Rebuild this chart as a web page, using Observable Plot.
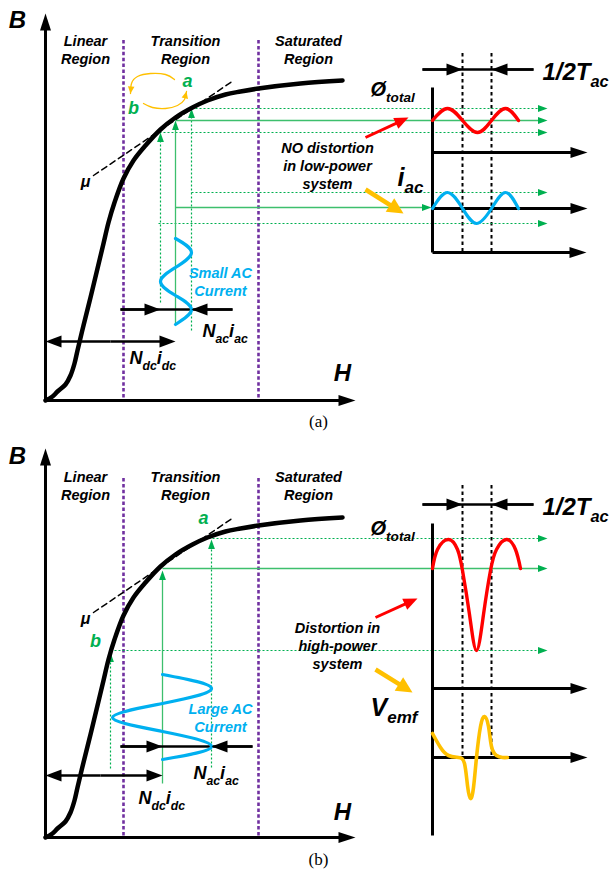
<!DOCTYPE html>
<html><head><meta charset="utf-8">
<script src="https://cdn.jsdelivr.net/npm/d3@7"></script>
<script src="https://cdn.jsdelivr.net/npm/@observablehq/plot@0.6"></script>
<style>html,body{margin:0;padding:0;background:#fff}#chart svg{display:block}</style>
</head><body><div id="chart"></div>
<script>
// ---------- DATA (diagram units = page pixels) ----------
const PANEL_B_SHIFT = 437; // vertical offset of panel (b) B-H curve & tangent
const bhCurve = [[45,400],[52,396],[57,391],[65,384],[70,375],[74,363],[77,350],[83,325],[90,297],[97,268],[103,243],[108,222],[114,202],[123,178],[133,160],[145,145],[160,129],[175,117],[192,107],[207,100],[225,94],[240,91],[258,88],[300,83],[342,80]];
const muTangent = [[93,175],[233,80]];

const regionBounds = [
  {x:123,y1:40,y2:400},{x:258,y1:40,y2:400},
  {x:123,y1:478,y2:837},{x:258,y1:478,y2:837}];
const periodMarks = [
  {x:462,y1:53,y2:252},{x:491,y1:53,y2:252},
  {x:462,y1:485,y2:757},{x:491,y1:485,y2:757}];
const plainAxes = [{x1:432,y1:87,x2:432,y2:252},{x1:432,y1:523,x2:432,y2:835}];
const dimBars = [
  {x1:422,y1:69,x2:533,y2:69},{x1:120,y1:309,x2:232,y2:309},
  {x1:422,y1:504,x2:533,y2:504},{x1:120,y1:746,x2:252,y2:746}];

const arrows = [
  // panel (a)
  {x1:45,y1:400,x2:45,y2:13,kind:"axis"},
  {x1:45,y1:400,x2:355,y2:400,kind:"axis"},
  {x1:432,y1:152,x2:587,y2:152,kind:"axis"},
  {x1:432,y1:208,x2:587,y2:208,kind:"axis"},
  {x1:432,y1:252,x2:586,y2:252,kind:"axis"},
  {x1:422,y1:69,x2:462,y2:69,kind:"dim"},
  {x1:533,y1:69,x2:491,y2:69,kind:"dim"},
  {x1:120,y1:309,x2:160,y2:309,kind:"dim"},
  {x1:232,y1:309,x2:191,y2:309,kind:"dim"},
  {x1:110,y1:341,x2:45,y2:341,kind:"dim"},
  {x1:110,y1:341,x2:175,y2:341,kind:"dim"},
  {x1:160,y1:302,x2:160,y2:132,kind:"greenDot"},
  {x1:175,y1:323,x2:175,y2:120,kind:"greenSolid"},
  {x1:191,y1:330,x2:191,y2:108,kind:"greenDot"},
  {x1:191,y1:108,x2:547,y2:108,kind:"greenDot"},
  {x1:175,y1:120,x2:547,y2:120,kind:"greenSolid"},
  {x1:155,y1:132,x2:547,y2:132,kind:"greenDot"},
  {x1:191,y1:192,x2:547,y2:192,kind:"greenDot"},
  {x1:175,y1:207,x2:431,y2:207,kind:"greenSolid"},
  {x1:158,y1:223,x2:547,y2:223,kind:"greenDot"},
  {x1:365,y1:137,x2:408,y2:117,kind:"red"},
  {x1:365,y1:189,x2:403,y2:213,kind:"orange"},
  // panel (b)
  {x1:45,y1:837,x2:45,y2:448,kind:"axis"},
  {x1:45,y1:837,x2:355,y2:837,kind:"axis"},
  {x1:432,y1:688,x2:587,y2:688,kind:"axis"},
  {x1:432,y1:757,x2:587,y2:757,kind:"axis"},
  {x1:422,y1:504,x2:462,y2:504,kind:"dim"},
  {x1:533,y1:504,x2:491,y2:504,kind:"dim"},
  {x1:120,y1:746,x2:162,y2:746,kind:"dim"},
  {x1:252,y1:746,x2:211,y2:746,kind:"dim"},
  {x1:100,y1:775,x2:45,y2:775,kind:"dim"},
  {x1:100,y1:775,x2:162,y2:775,kind:"dim"},
  {x1:110,y1:768,x2:110,y2:652,kind:"greenDot"},
  {x1:162,y1:783,x2:162,y2:570,kind:"greenSolid"},
  {x1:211,y1:767,x2:211,y2:539,kind:"greenDot"},
  {x1:200,y1:538,x2:547,y2:538,kind:"greenDot"},
  {x1:162,y1:568,x2:547,y2:568,kind:"greenSolid"},
  {x1:110,y1:650,x2:547,y2:650,kind:"greenDot"},
  {x1:375,y1:617,x2:417,y2:598,kind:"red"},
  {x1:375,y1:669,x2:412,y2:692,kind:"orange"}
];

// waveforms (peaks / crossings)
const smallAC   = [[175,238],[191,252],[175,267],[160,281],[175,295],[191,309],[175,324]];
const iacA      = [[432,208],[447,192],[462,208],[476,223],[491,208],[505,192],[518,208]];
const fluxA     = [[432,120],[447,108],[462,120],[477,132],[491,120],[505,108],[518,120]];
const largeAC   = [[162,674],[211,688],[162,703],[112,717],[162,731],[211,746],[162,759]];
const fluxB     = [[432,568],[437,549],[448,539],[457,549],[462,570],[469,614],[476,650],[483,614],[490,570],[496,549],[506,539],[515,549],[520,568]];
const vemfB     = [[432,733],[440,747],[448,755],[458,757],[464,763],[467,785],[470,798],[473,787],[476,757],[480,726],[484,716],[488,726],[491,746],[496,755],[502,757],[507,757]];
const orangeArcs = [
  {id:"a2b", pts:[[174,79],[165,74],[150,73],[137,76],[131,83],[130,93]]},
  {id:"b2a", pts:[[143,103],[152,107],[165,108],[177,105],[184,99],[186,91]]}
];

const regionLabels = [
  {x:85,y:49,text:"Linear\nRegion"},{x:185,y:49,text:"Transition\nRegion"},{x:308,y:49,text:"Saturated\nRegion"},
  {x:85,y:485,text:"Linear\nRegion"},{x:185,y:485,text:"Transition\nRegion"},{x:308,y:485,text:"Saturated\nRegion"}];
const axisLabels = [{x:17,y:20,text:"B"},{x:342,y:373,text:"H"},{x:17,y:456,text:"B"},{x:342,y:812,text:"H"}];
const pointLabels = [{x:187,y:81,text:"a"},{x:133,y:108,text:"b"},{x:203,y:518,text:"a"},{x:95,y:641,text:"b"}];
const muLabels = [{x:85,y:181,text:"μ"},{x:85,y:618,text:"μ"}];
const acLabels = [{x:220,y:281,text:"Small AC\nCurrent"},{x:220,y:717,text:"Large AC\nCurrent"}];
const noteLabels = [{x:327,y:165,text:"NO distortion\nin low-power\nsystem"},{x:337,y:645,text:"Distortion in\nhigh-power\nsystem"}];
const mmfLabels = [{x:202,y:331,text:"N_{ac}i_{ac}"},{x:129,y:358,text:"N_{dc}i_{dc}"},{x:193,y:773,text:"N_{ac}i_{ac}"},{x:138,y:798,text:"N_{dc}i_{dc}"}];
const periodLabels = [{x:542,y:72,text:"1/2T_{ac}"},{x:542,y:507,text:"1/2T_{ac}"}];
const fluxLabels = [{x:370,y:89,text:"Ø_{total}"},{x:370,y:528,text:"Ø_{total}"}];
const signalLabels = [{x:397,y:177,text:"i_{ac}"},{x:370,y:707,text:"V_{emf}"}];
const captions = [{x:318,y:421,text:"(a)"},{x:318,y:859,text:"(b)"}];

// ---------- STYLES ----------
const GREEN = "#00b050", GREEN_SOLID = "#3dbf6d", PURPLE = "#7030a0", CYAN = "#00b0f0", RED = "#ff0000", ORANGE = "#ffc000";
const KIND_STYLE = {
  axis:{stroke:"#000", width:3, L:17, W:5.5, fill:"#000"},
  dim:{stroke:"#000", width:2.5, L:16, W:6, fill:"#000"},
  greenDot:{stroke:GREEN, width:1.2, dash:"2,2", L:9.5, W:3.4, fill:GREEN},
  greenSolid:{stroke:GREEN_SOLID, width:1.3, L:9.5, W:3.4, fill:GREEN},
  red:{stroke:RED, width:3, L:14, W:6, fill:RED},
  orange:{stroke:ORANGE, width:4.5, L:16, W:8, fill:ORANGE}
};
const FONT = "'Liberation Sans', Arial, sans-serif";

// ---------- helpers ----------
const toPts = (arr, id, dy = 0) => arr.map(([x, y]) => ({x, y: y + dy, id}));
function head(x1, y1, x2, y2, L, W, id) {
  const a = Math.atan2(y2 - y1, x2 - x1), c = Math.cos(a), s = Math.sin(a);
  const bx = x2 - L * c, by = y2 - L * s;
  return [{x:x2, y:y2, id}, {x:bx - W * s, y:by + W * c, id}, {x:bx + W * s, y:by - W * c, id}];
}

const marks = [];
marks.push(Plot.ruleX(regionBounds, {x:"x", y1:"y1", y2:"y2", stroke:PURPLE, strokeWidth:2.6, strokeDasharray:"3.5,2.4"}));
marks.push(Plot.ruleX(periodMarks, {x:"x", y1:"y1", y2:"y2", stroke:"#000", strokeWidth:2, strokeDasharray:"3.5,3"}));

// arrows grouped by kind: green ones first (behind the curve)
const order = ["greenDot", "greenSolid", "axis", "dim", "red", "orange"];
const arrowMarks = {};
for (const kind of order) {
  const st = KIND_STYLE[kind];
  const list = arrows.filter(d => d.kind === kind);
  const shafts = list.map(d => {
    const a = Math.atan2(d.y2 - d.y1, d.x2 - d.x1), back = st.L * 0.6;
    return {x1:d.x1, y1:d.y1, x2:d.x2 - back * Math.cos(a), y2:d.y2 - back * Math.sin(a)};
  });
  const heads = list.flatMap((d, i) => head(d.x1, d.y1, d.x2, d.y2, st.L, st.W, kind + i));
  const opts = {x1:"x1", y1:"y1", x2:"x2", y2:"y2", stroke:st.stroke, strokeWidth:st.width};
  if (st.dash) opts.strokeDasharray = st.dash;
  arrowMarks[kind] = [Plot.link(shafts, opts), Plot.line(heads, {x:"x", y:"y", z:"id", fill:st.fill, stroke:"none"})];
}
marks.push(...arrowMarks.greenDot, ...arrowMarks.greenSolid);

// B-H curves & tangents
marks.push(Plot.line([...toPts(muTangent, "ta"), ...toPts(muTangent, "tb", PANEL_B_SHIFT)], {x:"x", y:"y", z:"id", stroke:"#000", strokeWidth:1.5, strokeDasharray:"6,4"}));
marks.push(Plot.line([...toPts(bhCurve, "a"), ...toPts(bhCurve, "b", PANEL_B_SHIFT)], {x:"x", y:"y", z:"id", curve:"catmull-rom", stroke:"#000", strokeWidth:4.5, strokeLinecap:"round"}));

// axes and dimension bars
marks.push(Plot.link(plainAxes, {x1:"x1", y1:"y1", x2:"x2", y2:"y2", stroke:"#000", strokeWidth:3}));
marks.push(Plot.link(dimBars, {x1:"x1", y1:"y1", x2:"x2", y2:"y2", stroke:"#000", strokeWidth:2.5}));
marks.push(...arrowMarks.axis);

// waveforms
marks.push(Plot.line([...toPts(smallAC, "s"), ...toPts(iacA, "i"), ...toPts(largeAC, "l")], {x:"x", y:"y", z:"id", curve:"natural", stroke:CYAN, strokeWidth:3.2, strokeLinecap:"round"}));
marks.push(...arrowMarks.dim);
marks.push(Plot.line([...toPts(fluxA, "fa"), ...toPts(fluxB, "fb")], {x:"x", y:"y", z:"id", curve:"natural", stroke:RED, strokeWidth:3.4, strokeLinecap:"round"}));
marks.push(Plot.line(toPts(vemfB, "v"), {x:"x", y:"y", curve:"natural", stroke:ORANGE, strokeWidth:3.6, strokeLinecap:"round"}));

// orange a<->b arcs
marks.push(Plot.line(orangeArcs.flatMap(a => toPts(a.pts, a.id)), {x:"x", y:"y", z:"id", curve:"natural", stroke:ORANGE, strokeWidth:1.3}));
marks.push(Plot.line(orangeArcs.flatMap(a => {
  const n = a.pts.length, [x1, y1] = a.pts[n - 2], [x2, y2] = a.pts[n - 1];
  return head(x1, y1, x2, y2, 7, 3.3, a.id + "h");
}), {x:"x", y:"y", z:"id", fill:ORANGE, stroke:"none"}));

marks.push(...arrowMarks.red, ...arrowMarks.orange);

// texts
const T = (data, o) => Plot.text(data, {x:"x", y:"y", text:"text", fontFamily:FONT, fontWeight:"bold", fontStyle:"italic", fill:"#000", ...o});
marks.push(T(regionLabels, {fontSize:14.5, lineHeight:1.24}));
marks.push(T(axisLabels, {fontSize:24}));
marks.push(T(pointLabels, {fontSize:18, fill:GREEN}));
marks.push(T(muLabels, {fontSize:16}));
marks.push(T(acLabels, {fontSize:14.5, lineHeight:1.24, fill:CYAN}));
marks.push(T(noteLabels, {fontSize:14.5, lineHeight:1.22}));
marks.push(T(mmfLabels, {fontSize:18, textAnchor:"start"}));
marks.push(T(periodLabels, {fontSize:24, textAnchor:"start"}));
marks.push(T(fluxLabels, {fontSize:20, textAnchor:"start"}));
marks.push(T(signalLabels, {fontSize:25, textAnchor:"start"}));
marks.push(Plot.text(captions, {x:"x", y:"y", text:"text", fontFamily:"'Liberation Serif', 'Times New Roman', serif", fontSize:17, fill:"#000"}));

const svg = Plot.plot({
  width:612, height:872, margin:0,
  x:{domain:[0,612], range:[0,612], axis:null},
  y:{domain:[0,872], range:[0,872], axis:null},
  style:{background:"#fff", overflow:"visible"},
  marks
});

// subscripts: "X_{sub}" -> tspans
d3.select(svg).selectAll("text").each(function () {
  const t = this.textContent;
  if (!t.includes("_{")) return;
  const g = this.closest("g");
  const base = parseFloat((g && g.getAttribute("font-size")) || 18);
  const sub = base * 0.68, shift = base * 0.3;
  const parts = t.split(/(_\{[^}]*\})/).filter(s => s.length);
  this.textContent = "";
  let down = false;
  for (const p of parts) {
    const ts = d3.select(this).append("tspan");
    if (p.startsWith("_{")) {
      ts.text(p.slice(2, -1)).attr("font-size", sub);
      if (!down) { ts.attr("dy", shift); down = true; }
    } else {
      ts.text(p);
      if (down) { ts.attr("dy", -shift); down = false; }
    }
  }
});

document.getElementById("chart").appendChild(svg);
</script></body></html>
